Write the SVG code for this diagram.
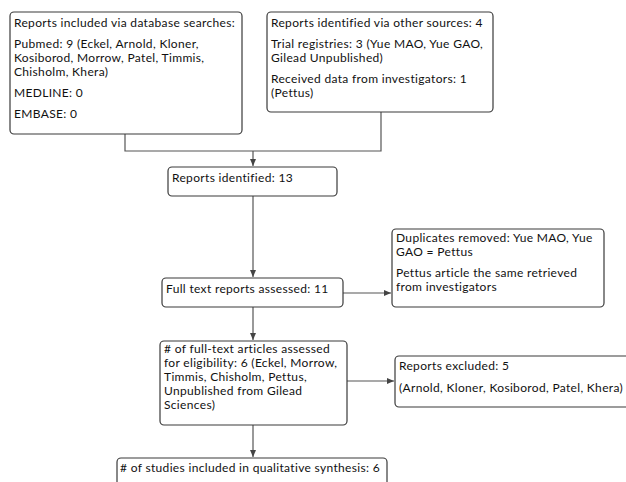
<svg xmlns="http://www.w3.org/2000/svg" width="626" height="482" viewBox="0 0 626 482">
<defs>
<style>
.box{fill:#fff;stroke:#3a3a3a;stroke-width:1.2}
.t{font-family:Lato,"Open Sans","Liberation Sans",sans-serif;font-size:12px;letter-spacing:0.33px;fill:#111}
.c{fill:none;stroke:#555;stroke-width:1.2}
</style>
<marker id="ah" markerWidth="8" markerHeight="8" refX="7" refY="4" orient="auto" markerUnits="userSpaceOnUse">
<path d="M0,1 L7,4 L0,7 Z" fill="#444"/>
</marker>
</defs>
<rect width="626" height="482" fill="#fff"/>
<g id="connectors">
<path class="c" d="M125,134 V151 H381 V112"/>
<path class="c" d="M253,151 V166" marker-end="url(#ah)"/>
<path class="c" d="M253,196 V277" marker-end="url(#ah)"/>
<path class="c" d="M343,293 H391" marker-end="url(#ah)"/>
<path class="c" d="M253,307 V340" marker-end="url(#ah)"/>
<path class="c" d="M347,381 H394" marker-end="url(#ah)"/>
<path class="c" d="M253,425 V457" marker-end="url(#ah)"/>
</g>
<g id="db">
<rect class="box" x="10" y="12" width="232" height="122" rx="4"/>
<text class="t" x="14" y="27">Reports included via database searches:</text>
<text class="t" x="14" y="48">Pubmed: 9 (Eckel, Arnold, Kloner,</text>
<text class="t" x="14" y="62">Kosiborod, Morrow, Patel, Timmis,</text>
<text class="t" x="14" y="76">Chisholm, Khera)</text>
<text class="t" x="14" y="97">MEDLINE: 0</text>
<text class="t" x="14" y="118">EMBASE: 0</text>
</g>
<g id="other">
<rect class="box" x="267" y="12" width="226" height="100" rx="4"/>
<text class="t" x="271" y="27">Reports identified via other sources: 4</text>
<text class="t" x="271" y="48">Trial registries: 3 (Yue MAO, Yue GAO,</text>
<text class="t" x="271" y="62">Gilead Unpublished)</text>
<text class="t" x="271" y="83">Received data from investigators: 1</text>
<text class="t" x="271" y="97">(Pettus)</text>
</g>
<g id="identified">
<rect class="box" x="168" y="167" width="169" height="29" rx="4"/>
<text class="t" x="172" y="182">Reports identified: 13</text>
</g>
<g id="fulltext">
<rect class="box" x="162" y="278" width="181" height="29" rx="4"/>
<text class="t" x="166" y="293">Full text reports assessed: 11</text>
</g>
<g id="duplicates">
<rect class="box" x="392" y="229" width="212" height="78" rx="4"/>
<text class="t" x="396" y="242">Duplicates removed: Yue MAO, Yue</text>
<text class="t" x="396" y="256">GAO = Pettus</text>
<text class="t" x="396" y="277">Pettus article the same retrieved</text>
<text class="t" x="396" y="291">from investigators</text>
</g>
<g id="eligibility">
<rect class="box" x="160" y="341" width="187" height="84" rx="4"/>
<text class="t" x="164" y="353">#  of full-text articles assessed</text>
<text class="t" x="164" y="367">for eligibility: 6 (Eckel, Morrow,</text>
<text class="t" x="164" y="381">Timmis, Chisholm, Pettus,</text>
<text class="t" x="164" y="395">Unpublished from Gilead</text>
<text class="t" x="164" y="409">Sciences)</text>
</g>
<g id="excluded">
<rect class="box" x="395" y="356" width="240" height="51" rx="4"/>
<text class="t" x="399" y="370">Reports excluded: 5</text>
<text class="t" x="399" y="392">(Arnold, Kloner, Kosiborod, Patel, Khera)</text>
</g>
<g id="included">
<rect class="box" x="117" y="458" width="270" height="40" rx="4"/>
<text class="t" x="120" y="472">#  of studies included in qualitative synthesis: 6</text>
</g>
</svg>
